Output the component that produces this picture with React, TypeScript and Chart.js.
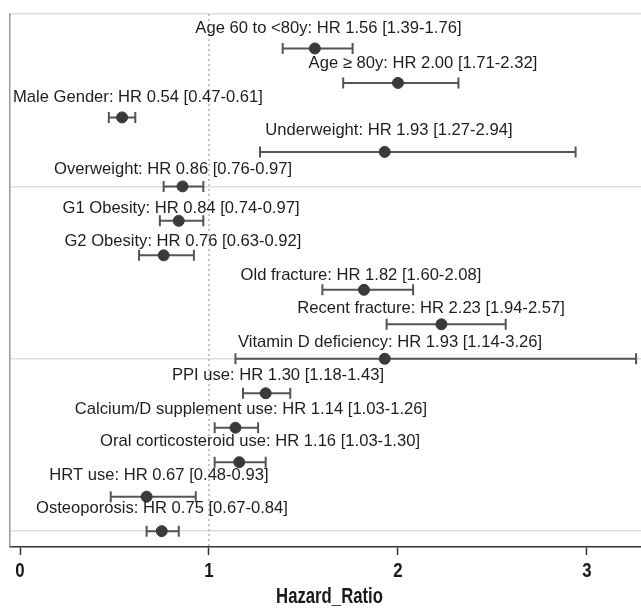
import React, { useEffect, useRef } from "react";
import { Chart, registerables } from "chart.js";

Chart.register(...registerables);

const categories = [
  "Age 60 to <80y",
  "Age ≥ 80y",
  "Male Gender",
  "Underweight",
  "Overweight",
  "G1 Obesity",
  "G2 Obesity",
  "Old fracture",
  "Recent fracture",
  "Vitamin D deficiency",
  "PPI use",
  "Calcium/D supplement use",
  "Oral corticosteroid use",
  "HRT use",
  "Osteoporosis",
];
const hazardRatio = [1.56, 2.0, 0.54, 1.93, 0.86, 0.84, 0.76, 1.82, 2.23, 1.93, 1.3, 1.14, 1.16, 0.67, 0.75];
const ciLow = [1.39, 1.71, 0.47, 1.27, 0.76, 0.74, 0.63, 1.6, 1.94, 1.14, 1.18, 1.03, 1.03, 0.48, 0.67];
const ciHigh = [1.76, 2.32, 0.61, 2.94, 0.97, 0.97, 0.92, 2.08, 2.57, 3.26, 1.43, 1.26, 1.3, 0.93, 0.84];
// where each text label sits: centre in hazard-ratio units, and row position
const labelCenterHR = [1.632, 2.132, 0.624, 1.952, 0.81, 0.852, 0.862, 1.804, 2.175, 1.958, 1.365, 1.222, 1.27, 0.735, 0.751];
const labelRow = [0.41, 1.42, 2.41, 3.37, 4.5, 5.63, 6.61, 7.57, 8.53, 9.54, 10.47, 11.46, 12.39, 13.37, 14.33];
const xTickValues = [0, 1, 2, 3];
const xTickLabels = ["0", "1", "2", "3"];
const rowGridValues = [0, 5, 10, 15];
const referenceHR = 1;
const xTitle = "Hazard_Ratio";

export default function App() {
  const ref = useRef<HTMLCanvasElement>(null);

  useEffect(() => {
    if (!ref.current) return;
    const rows = categories.map((_, i) => i + 1);

    const drawCondensed = (ctx: any, text: string, cx: number, cy: number, font: string, sx: number) => {
      ctx.save();
      ctx.font = font;
      ctx.textAlign = "center";
      ctx.textBaseline = "middle";
      ctx.translate(cx, cy);
      ctx.scale(sx, 1);
      ctx.fillText(text, 0, 0);
      ctx.restore();
    };

    const forestPlugin = {
      id: "forest",
      beforeDatasetsDraw(chart: any) {
        const { ctx, chartArea } = chart;
        const x = chart.scales.x;
        const y = chart.scales.y;
        ctx.save();
        ctx.strokeStyle = "#a8a8a8";
        ctx.lineWidth = 1.3;
        ctx.setLineDash([2, 3]);
        const rx = x.getPixelForValue(referenceHR);
        ctx.beginPath();
        ctx.moveTo(rx, chartArea.top);
        ctx.lineTo(rx, chartArea.bottom);
        ctx.stroke();
        ctx.setLineDash([]);
        ctx.strokeStyle = "#555555";
        ctx.lineWidth = 2;
        rows.forEach((r, i) => {
          const py = y.getPixelForValue(r);
          const x1 = x.getPixelForValue(ciLow[i]);
          const x2 = x.getPixelForValue(ciHigh[i]);
          ctx.beginPath();
          ctx.moveTo(x1, py);
          ctx.lineTo(x2, py);
          ctx.moveTo(x1, py - 5.5);
          ctx.lineTo(x1, py + 5.5);
          ctx.moveTo(x2, py - 5.5);
          ctx.lineTo(x2, py + 5.5);
          ctx.stroke();
        });
        ctx.restore();
      },
      afterDatasetsDraw(chart: any) {
        const { ctx } = chart;
        const x = chart.scales.x;
        const y = chart.scales.y;
        ctx.save();
        ctx.fillStyle = "#1e1e1e";
        ctx.font = "16.6px 'Liberation Sans', Arial, sans-serif";
        ctx.textAlign = "center";
        ctx.textBaseline = "middle";
        rows.forEach((r, i) => {
          const txt = `${categories[i]}: HR ${hazardRatio[i].toFixed(2)} [${ciLow[i].toFixed(2)}-${ciHigh[i].toFixed(2)}]`;
          ctx.fillText(txt, x.getPixelForValue(labelCenterHR[i]), y.getPixelForValue(labelRow[i]));
        });
        ctx.restore();
      },
      afterDraw(chart: any) {
        const { ctx, chartArea } = chart;
        const x = chart.scales.x;
        ctx.save();
        ctx.fillStyle = "#1a1a1a";
        xTickValues.forEach((v, i) => {
          drawCondensed(ctx, xTickLabels[i], x.getPixelForValue(v), chartArea.bottom + 24, "bold 21px 'Liberation Sans', Arial, sans-serif", 0.8);
        });
        drawCondensed(
          ctx,
          xTitle,
          (chartArea.left + chartArea.right) / 2 + 4,
          chartArea.bottom + 50,
          "bold 22px 'Liberation Sans', Arial, sans-serif",
          0.76
        );
        ctx.restore();
      },
    };

    const chart = new Chart(ref.current, {
      type: "scatter",
      data: {
        datasets: [
          {
            data: rows.map((r, i) => ({ x: hazardRatio[i], y: r })),
            backgroundColor: "#3a3a3a",
            borderColor: "#3a3a3a",
            pointRadius: 5.5,
            pointHoverRadius: 5.5,
          },
        ],
      },
      options: {
        animation: false,
        responsive: true,
        maintainAspectRatio: false,
        layout: { autoPadding: false, padding: { left: 10, top: 14, right: 0, bottom: 54 } },
        plugins: { legend: { display: false }, tooltip: { enabled: false } },
        scales: {
          x: {
            type: "linear",
            min: -0.053,
            max: 3.286,
            afterBuildTicks: (axis: any) => {
              axis.ticks = xTickValues.map((v) => ({ value: v }));
            },
            grid: { drawOnChartArea: false, drawTicks: true, tickLength: 8, color: "#333", tickWidth: 1.5 },
            border: { display: true, color: "#333", width: 1.5 },
            ticks: { display: false },
            title: { display: false },
          },
          y: {
            type: "linear",
            reverse: true,
            min: 0,
            max: 15.46,
            afterBuildTicks: (axis: any) => {
              axis.ticks = rowGridValues.map((v) => ({ value: v }));
            },
            grid: { drawTicks: false, color: "#dddddd", lineWidth: 1.5 },
            border: { display: true, color: "#9a9a9a", width: 1.5 },
            ticks: { display: false },
          },
        },
      },
      plugins: [forestPlugin],
    });
    return () => chart.destroy();
  }, []);

  return (
    <div style={{ position: "absolute", left: 0, top: 0, width: 641, height: 609, background: "#fff" }}>
      <canvas ref={ref} />
    </div>
  );
}
